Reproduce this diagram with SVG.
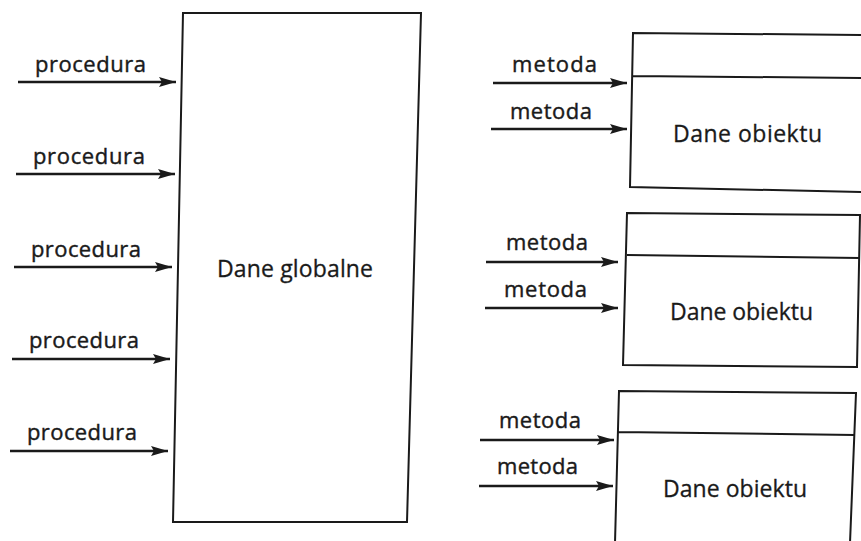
<svg xmlns="http://www.w3.org/2000/svg" width="861" height="541" viewBox="0 0 861 541">
<style>
.box{fill:#fff;stroke:#1a1a1a;stroke-width:2;stroke-linejoin:miter}
.ln{fill:none;stroke:#1a1a1a;stroke-width:2}
.arr{fill:none;stroke:#1a1a1a;stroke-width:2.4;marker-end:url(#ah)}
.lbl{font-family:"Open Sans","Noto Sans","DejaVu Sans",sans-serif;font-size:22px;fill:#1a1a1a;stroke:#1a1a1a;stroke-width:0.4}
.dat{font-family:"Open Sans","Noto Sans","DejaVu Sans",sans-serif;font-size:23px;fill:#1a1a1a;stroke:#1a1a1a;stroke-width:0.3}
</style>
<defs>
<marker id="ah" markerWidth="18" markerHeight="12" refX="17" refY="6" orient="auto" markerUnits="userSpaceOnUse">
<path d="M0,1 L17,6 L0,11 L3,6 Z" fill="#1a1a1a"/>
</marker>
</defs>
<rect width="861" height="541" fill="#fff"/>

<g id="global">
<polygon class="box" points="183,13 421,13 407,522 173,522"/>
<text class="dat" x="217" y="277" textLength="156">Dane globalne</text>
</g>

<g id="obj1">
<path class="ln" d="M863,35 L633,33 L630,187 L863,192 M633,76 L863,78"/>
<text class="dat" x="673" y="142" textLength="149">Dane obiektu</text>
</g>

<g id="obj2">
<polygon class="box" points="627,213 860,215 857,367 623,365"/>
<line class="ln" x1="627" y1="255" x2="860" y2="258"/>
<text class="dat" x="670" y="320" textLength="143">Dane obiektu</text>
</g>

<g id="obj3">
<path class="ln" d="M615,543 L619,391 L856,393 L850,543 M618,432 L855,435"/>
<text class="dat" x="663" y="497" textLength="144">Dane obiektu</text>
</g>

<g id="connectors">
<line class="arr" x1="18" y1="82" x2="176" y2="82"/>
<line class="arr" x1="16" y1="174" x2="175" y2="174"/>
<line class="arr" x1="14" y1="267" x2="172" y2="267"/>
<line class="arr" x1="12" y1="359" x2="170" y2="359"/>
<line class="arr" x1="10" y1="451" x2="168" y2="451"/>
<line class="arr" x1="493" y1="83" x2="627" y2="83"/>
<line class="arr" x1="491" y1="129" x2="627" y2="129"/>
<line class="arr" x1="486" y1="262" x2="618" y2="262"/>
<line class="arr" x1="485" y1="308" x2="618" y2="308"/>
<line class="arr" x1="480" y1="440" x2="614" y2="440"/>
<line class="arr" x1="479" y1="486" x2="613" y2="486"/>
</g>

<g id="labels">
<text class="lbl" x="35" y="72" textLength="111">procedura</text>
<text class="lbl" x="33" y="164" textLength="112">procedura</text>
<text class="lbl" x="31" y="257" textLength="110">procedura</text>
<text class="lbl" x="29" y="348" textLength="110">procedura</text>
<text class="lbl" x="27" y="440" textLength="110">procedura</text>
<text class="lbl" x="512" y="72" textLength="85">metoda</text>
<text class="lbl" x="510" y="119" textLength="82">metoda</text>
<text class="lbl" x="506" y="250" textLength="82">metoda</text>
<text class="lbl" x="504" y="297" textLength="83">metoda</text>
<text class="lbl" x="499" y="428" textLength="82">metoda</text>
<text class="lbl" x="497" y="474" textLength="81">metoda</text>
</g>
</svg>
